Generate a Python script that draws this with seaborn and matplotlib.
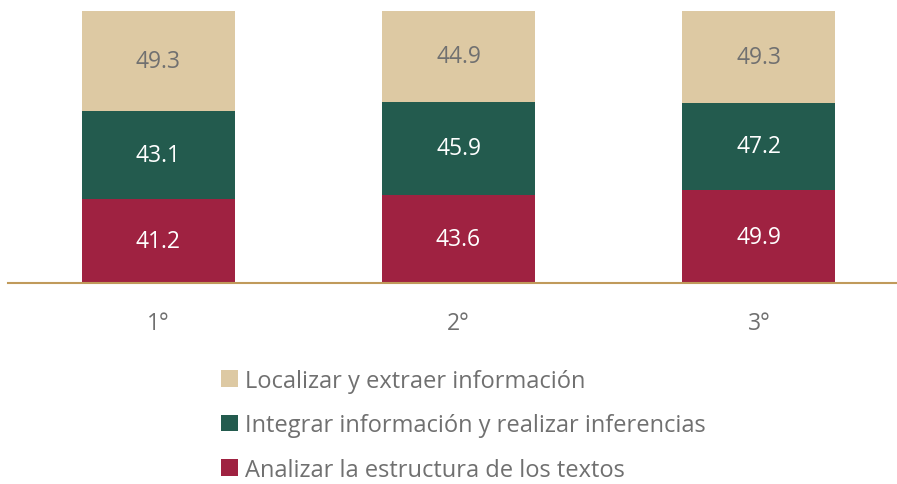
import pandas as pd
import matplotlib.pyplot as plt
import seaborn as sns
from matplotlib.patches import Patch

sns.set_style("white")
plt.rcParams["font.family"] = ["Open Sans", "DejaVu Sans"]

grades = ["1°", "2°", "3°"]
analizar = [41.2, 43.6, 49.9]
integrar = [43.1, 45.9, 47.2]
localizar = [49.3, 44.9, 49.3]

series_names = [
    "Analizar la estructura de los textos",
    "Integrar información y realizar inferencias",
    "Localizar y extraer información",
]
colors = ["#9F2241", "#235B4E", "#DDC9A3"]
text_colors = ["white", "white", "#707070"]

df = pd.DataFrame({
    "grade": grades,
    series_names[0]: analizar,
    series_names[1]: integrar,
    series_names[2]: localizar,
})
total = df[series_names].sum(axis=1)
share = df[series_names].div(total, axis=0)
cum = share.cumsum(axis=1)

fig = plt.figure(figsize=(8.97, 4.85), dpi=100)
ax = fig.add_axes([8 / 897, 201 / 485, 1 - 8 / 897, 272 / 485])

# stacked bars drawn as overlapping cumulative bars, tallest first
for name, color in reversed(list(zip(series_names, colors))):
    sns.barplot(x=df["grade"], y=cum[name], color=color, width=0.51,
                saturation=1, ax=ax, linewidth=0)

for i, g in enumerate(grades):
    bottom = 0
    for name, tc in zip(series_names, text_colors):
        h = share.loc[i, name]
        ax.text(i, bottom + h / 2, f"{df.loc[i, name]:.1f}", ha="center",
                va="center", color=tc, fontsize=16.5)
        bottom += h

ax.set_xlim(-0.5, 2.46)
ax.set_ylim(0, 1)
ax.set_xlabel("")
ax.set_ylabel("")
ax.set_yticks([])
for s in ["top", "left", "right"]:
    ax.spines[s].set_visible(False)
ax.spines["bottom"].set_color("#C09A5B")
ax.spines["bottom"].set_linewidth(1.5)
ax.tick_params(axis="x", length=0, pad=20, labelsize=16.5, labelcolor="#707070")

handles = [Patch(facecolor=c, edgecolor="none") for c in reversed(colors)]
fig.legend(handles, list(reversed(series_names)), loc="upper left",
           bbox_to_anchor=(221 / 897, 1 - 370 / 485), frameon=False,
           fontsize=17, labelcolor="#707070", borderpad=0, borderaxespad=0,
           handlelength=0.7, handleheight=0.7, handletextpad=0.3,
           labelspacing=0.86)

fig.savefig("out.png", dpi=100)
plt.close(fig)
